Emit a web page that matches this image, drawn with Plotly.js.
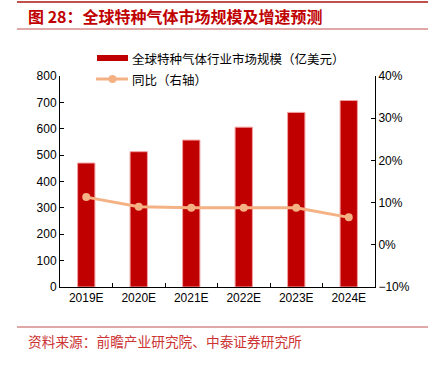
<!DOCTYPE html>
<html><head><meta charset="utf-8">
<script src="https://cdn.plot.ly/plotly-3.0.1.min.js"></script>
<style>html,body{margin:0;padding:0;background:#fff}#c{width:444px;height:371px}</style>
</head><body><div id="c"></div>
<script>
const categories = ['2019E','2020E','2021E','2022E','2023E','2024E'];
const marketSize = [470, 513, 557, 606, 662, 707];
const yoyGrowth = [0.113, 0.090, 0.088, 0.088, 0.088, 0.065];
const barName = '全球特种气体行业市场规模（亿美元）';
const lineName = '同比（右轴）';

const L=60, R=375, T=76, B=287;
const px = x => (x-L)/(R-L);
const py = y => (B-y)/(B-T);

const tickFont = {family:'Liberation Sans, Arial, sans-serif', size:12, color:'#000'};
const cjk = 'Noto Sans CJK SC, sans-serif';
const barColor = '#C00000', lineColor = '#F4B183';

const traces = [
  {type:'bar', x:categories, y:marketSize, name:barName,
   marker:{color:barColor, line:{color:'#F2A0A0', width:1}}, width:0.33},
  {type:'scatter', mode:'lines+markers', x:categories, y:yoyGrowth, name:lineName, yaxis:'y2',
   line:{color:lineColor, width:3}, marker:{color:lineColor, size:8}}
];

const layout = {
  width:444, height:371,
  margin:{l:L, r:444-R, t:T, b:371-B},
  paper_bgcolor:'#fff', plot_bgcolor:'#fff',
  showlegend:false,
  xaxis:{type:'category', showline:true, linecolor:'#000', linewidth:1, ticks:'inside', ticklen:4,
    tickson:'boundaries', tickcolor:'#000', tickfont:tickFont, showgrid:false, zeroline:false,
    range:[-0.5,5.5]},
  yaxis:{range:[0,800], dtick:100, showline:true, linecolor:'#000', ticks:'inside', ticklen:4,
    tickcolor:'#000', tickfont:tickFont, showgrid:false, zeroline:false},
  yaxis2:{overlaying:'y', side:'right', range:[-0.1,0.4], dtick:0.1, tickformat:'.0%',
    showline:true, linecolor:'#000', ticks:'inside', ticklen:4, tickcolor:'#000',
    tickfont:tickFont, showgrid:false, zeroline:false},
  shapes:[
    {type:'line', xref:'paper', yref:'paper', x0:px(17), x1:px(428), y0:py(2), y1:py(2), line:{color:'#C0504D', width:2}},
    {type:'line', xref:'paper', yref:'paper', x0:px(17), x1:px(428), y0:py(29), y1:py(29), line:{color:'#C0504D', width:1}},
    {type:'line', xref:'paper', yref:'paper', x0:px(17), x1:px(428), y0:py(327), y1:py(327), line:{color:'#C0504D', width:1}},
    // legend symbols
    {type:'rect', xref:'paper', yref:'paper', x0:px(97), x1:px(128), y0:py(55), y1:py(61), fillcolor:barColor, line:{width:0}},
    {type:'line', xref:'paper', yref:'paper', x0:px(96), x1:px(128), y0:py(79), y1:py(79), line:{color:lineColor, width:3}},
    {type:'circle', xref:'paper', yref:'paper', x0:px(108.5), x1:px(116.5), y0:py(75), y1:py(83), fillcolor:lineColor, line:{width:0}}
  ],
  annotations:[
    {xref:'paper', yref:'paper', x:px(26), y:py(16), xanchor:'left', yanchor:'middle', showarrow:false,
     text:'<b>图 28：全球特种气体市场规模及增速预测</b>', font:{family:cjk, size:16, color:'#C00000'}},
    {xref:'paper', yref:'paper', x:px(26), y:py(341), xanchor:'left', yanchor:'middle', showarrow:false,
     text:'资料来源：前瞻产业研究院、中泰证券研究所', font:{family:cjk, size:13.7, color:'#CC3333'}},
    {xref:'paper', yref:'paper', x:px(130), y:py(58), xanchor:'left', yanchor:'middle', showarrow:false,
     text:barName, font:{family:cjk, size:12.5, color:'#000'}},
    {xref:'paper', yref:'paper', x:px(130), y:py(79), xanchor:'left', yanchor:'middle', showarrow:false,
     text:lineName, font:{family:cjk, size:12.5, color:'#000'}}
  ]
};
Plotly.newPlot('c', traces, layout, {displayModeBar:false, staticPlot:true});
</script></body></html>
